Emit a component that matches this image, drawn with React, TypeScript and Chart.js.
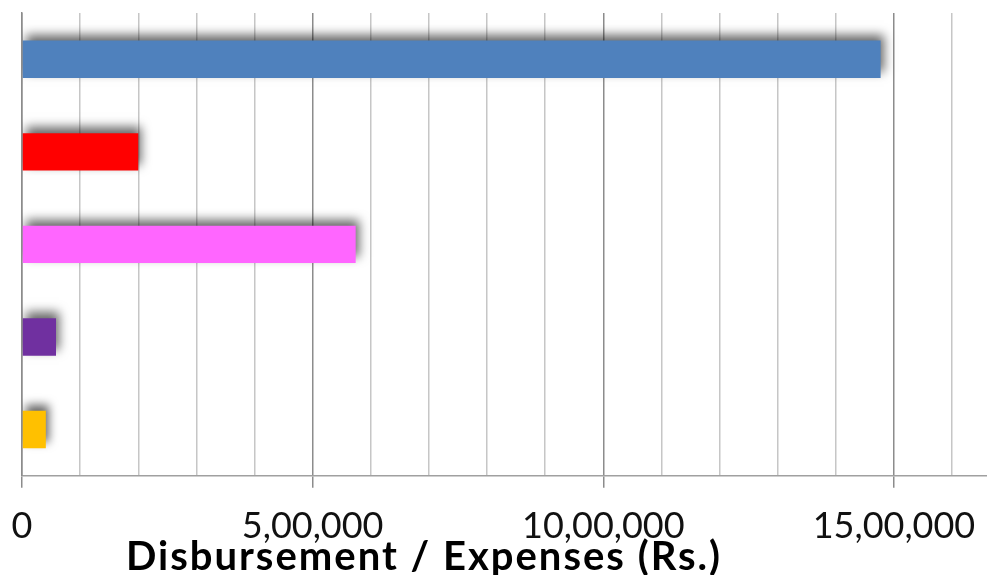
import React, { useEffect, useRef } from "react";
import { Chart, registerables } from "chart.js";

Chart.register(...registerables);

const categories = ["Item 1", "Item 2", "Item 3", "Item 4", "Item 5"];
const values = [1477000, 200000, 574000, 58500, 41000];
const barColors = ["#4F81BD", "#FF0000", "#FF66FF", "#7030A0", "#FFC000"];
const gridValues = [
  0, 100000, 200000, 300000, 400000, 500000, 600000, 700000, 800000,
  900000, 1000000, 1100000, 1200000, 1300000, 1400000, 1500000, 1600000,
];
const tickValues = [0, 500000, 1000000, 1500000];
const tickLabels = ["0", "5,00,000", "10,00,000", "15,00,000"];
const axisTitle = "Disbursement / Expenses (Rs.)";

const shadowPlugin = {
  id: "barShadow",
  beforeDatasetsDraw(chart: any) {
    const ctx = chart.ctx;
    ctx.save();
    ctx.shadowColor = "rgba(0,0,0,0.6)";
    ctx.shadowBlur = 10;
    ctx.shadowOffsetX = 3;
    ctx.shadowOffsetY = -6;
  },
  afterDatasetsDraw(chart: any) {
    chart.ctx.restore();
  },
};

const titlePlugin = {
  id: "offsetTitle",
  afterDraw(chart: any) {
    const ctx = chart.ctx;
    ctx.save();
    ctx.font = "bold 40px Lato";
    try {
      (ctx as any).letterSpacing = "2px";
    } catch (e) {}
    ctx.fillStyle = "#000";
    ctx.textAlign = "center";
    ctx.textBaseline = "alphabetic";
    ctx.fillText(axisTitle, 424, 570);
    ctx.restore();
  },
};

export default function App() {
  const ref = useRef<HTMLCanvasElement | null>(null);
  useEffect(() => {
    if (!ref.current) return;
    const isMajor = (v: number) => tickValues.indexOf(v) >= 0;
    const chart = new Chart(ref.current, {
      type: "bar",
      data: {
        labels: categories,
        datasets: [
          {
            data: values,
            backgroundColor: barColors,
            borderWidth: 0,
            barPercentage: 0.404,
            categoryPercentage: 1,
          },
        ],
      },
      plugins: [shadowPlugin, titlePlugin],
      options: {
        indexAxis: "y",
        animation: false,
        responsive: false,
        layout: { padding: { top: 13, left: 22, right: 0, bottom: 10 } },
        plugins: { legend: { display: false }, tooltip: { enabled: false }, title: { display: false } },
        scales: {
          x: {
            min: 0,
            max: 1660000,
            afterBuildTicks: (axis: any) => {
              axis.ticks = gridValues.map((v) => ({ value: v }));
            },
            afterFit: (axis: any) => {
              axis.paddingLeft = 0;
              axis.paddingRight = 0;
            },
            grid: {
              drawOnChartArea: true,
              lineWidth: 1.5,
              color: (c: any) => (c.tick && isMajor(c.tick.value) ? "#8c8c8c" : "#c6c6c6"),
              tickColor: (c: any) => (c.tick && isMajor(c.tick.value) ? "#8c8c8c" : "rgba(0,0,0,0)"),
              tickLength: 12,
            },
            border: { display: true, color: "#a0a0a0", width: 1.5 },
            ticks: {
              autoSkip: false,
              maxRotation: 0,
              minRotation: 0,
              padding: 17,
              color: "#111",
              font: { family: "Lato", size: 36 },
              callback: (v: any) => {
                const i = tickValues.indexOf(Number(v));
                return i >= 0 ? tickLabels[i] : "";
              },
            },
          },
          y: {
            afterFit: (axis: any) => {
              axis.width = 0;
            },
            grid: { display: false },
            border: { display: true, color: "#8c8c8c", width: 1.5 },
            ticks: { display: false },
          },
        },
      },
    });
    return () => chart.destroy();
  }, []);
  return (
    <div style={{ position: "fixed", left: 0, top: 0, width: 987, height: 575, background: "#fff" }}>
      <canvas ref={ref} width={987} height={575} style={{ display: "block" }} />
    </div>
  );
}
